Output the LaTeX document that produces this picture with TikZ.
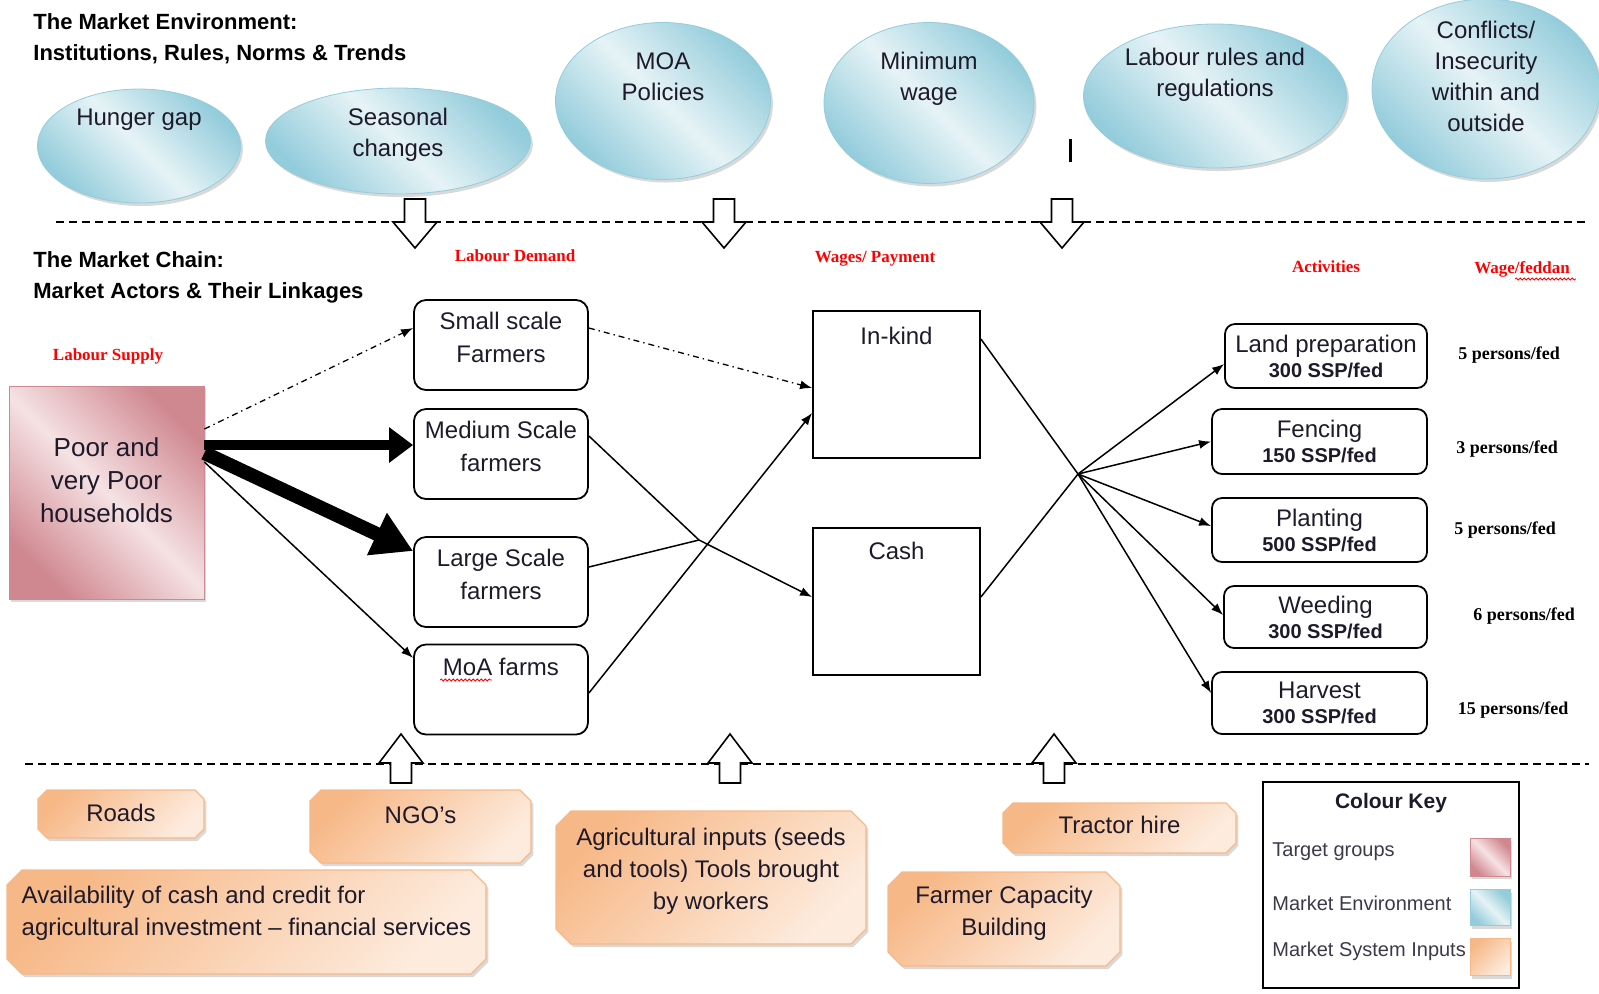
\documentclass[tikz,border=0pt]{standalone}
\usepackage{fontspec}
\setmainfont{Liberation Sans}
\newfontfamily\labelfont{Liberation Serif}
\usetikzlibrary{shapes.geometric,shadows,arrows.meta,decorations.pathmorphing}
\definecolor{envdark}{HTML}{93CCDB}
\definecolor{envlight}{HTML}{E6F3F6}
\definecolor{tgtdark}{HTML}{D08890}
\definecolor{tgtlight}{HTML}{F5E2E4}
\definecolor{inpdark}{HTML}{F7B887}
\definecolor{inplight}{HTML}{FDEBDD}
\definecolor{txt}{HTML}{1E1A2A}
\definecolor{keytxt}{HTML}{3A3A4A}

\begin{document}
\begin{tikzpicture}[x=0.5pt,y=-0.5pt,
  >={Latex[length=6pt,width=4.5pt]},
  conn/.style={line width=0.75pt},
  dashdot/.style={line width=0.65pt, dash pattern=on 3pt off 2pt on 0.7pt off 2pt},
  sep/.style={line width=0.8pt, dash pattern=on 4pt off 2.5pt},
  head/.style={anchor=west, inner xsep=0pt, align=left, font=\bfseries\fontsize{11}{15.5}\selectfont},
  redlab/.style={text=red, font=\labelfont\bfseries\fontsize{8.5}{10}\selectfont},
  wlab/.style={font=\labelfont\bfseries\fontsize{9}{10}\selectfont},
  envfill/.style={draw=envdark, top color=envdark, bottom color=envdark, middle color=envlight, shading angle=-45},
  tgtfill/.style={draw=tgtdark, top color=tgtdark, bottom color=tgtdark, middle color=tgtlight, shading angle=-45},
  inpfill/.style={draw=inpdark, top color=inpdark, bottom color=inplight, shading angle=45},
  shade/.style={drop shadow={opacity=.3, shadow xshift=1.2pt, shadow yshift=-1.5pt}},
  env/.style={ellipse, inner sep=0pt, envfill, shade},
  envtext/.style={align=center, text=txt, font=\fontsize{12}{15.5}\selectfont},
  dem/.style={draw, rounded corners=6pt, line width=0.9pt, minimum width=87pt, minimum height=45pt,
    align=center, text=txt, text depth=8pt, font=\fontsize{12}{16.5}\selectfont},
  toptext/.style={text=txt, font=\fontsize{12}{14}\selectfont, anchor=north, inner sep=0pt},
  pay/.style={draw, line width=0.9pt, minimum width=83.5pt, minimum height=73.5pt},
  act/.style={draw, rounded corners=5pt, line width=0.9pt, align=center, text=txt,
    font=\fontsize{12}{12.5}\selectfont},
  inptext/.style={align=center, text=txt, font=\fontsize{12}{16}\selectfont},
  keyitem/.style={anchor=west, inner xsep=0pt, text=keytxt, font=\fontsize{10}{12}\selectfont}]
\useasboundingbox (0,0) rectangle (1599,993);

% MARKET ENVIRONMENT
\node[head] (envhead) at (33,38.5) {The Market Environment:\\Institutions, Rules, Norms \& Trends};
\node[env, minimum width=101.5pt, minimum height=57pt, label={[envtext,yshift=13pt]center:Hunger gap}] (hunger) at (139,146) {};
\node[env, minimum width=132.5pt, minimum height=53pt, label={[envtext,yshift=3pt]center:Seasonal\\changes}] (season) at (398,141) {};
\node[env, minimum width=107.5pt, minimum height=78.5pt, label={[envtext,yshift=12pt]center:MOA\\Policies}] (moapol) at (663,101) {};
\node[env, minimum width=105pt, minimum height=80.5pt, label={[envtext,yshift=12pt]center:Minimum\\wage}] (minwage) at (929,103) {};
\node[env, minimum width=131.5pt, minimum height=72pt, label={[envtext,yshift=10.5pt]center:Labour rules and\\regulations}] (rules) at (1215,96) {};
\node[env, minimum width=114pt, minimum height=90pt, label={[envtext,yshift=6.5pt]center:Conflicts/\\Insecurity\\within and\\outside}] (conflict) at (1486,89) {};
\draw[line width=1.5pt] (1070,139) -- (1070,162);

\draw[sep] (56,222) -- (1589,222);
\foreach \x in {415,724,1062}
  \draw[line width=0.8pt, fill=white] (\x-10.5,199) -- (\x+10.5,199) -- (\x+10.5,222) -- (\x+22,222)
    -- (\x,248) -- (\x-22,222) -- (\x-10.5,222) -- cycle;

% MARKET CHAIN
\node[head] (chainhead) at (33,277.5) {The Market Chain:\\Market Actors \& Their Linkages};
\node[redlab] (supply) at (108,356) {Labour Supply};
\node[redlab] (demand) at (515,256) {Labour Demand};
\node[redlab] (wages) at (875,259) {Wages/ Payment};
\node[redlab] (activ) at (1326,267) {Activities};
\node[redlab] (wagefed) at (1522,269) {Wage/feddan};
\draw[red, line width=0.4pt, decorate, decoration={snake, amplitude=0.5pt, segment length=2pt}] (1515,279) -- (1576,279);

\node[tgtfill, shade, minimum width=97.5pt, minimum height=106.5pt, align=center, text=txt, text depth=12pt,
  font=\fontsize{13}{16.5}\selectfont] (poor) at (106.5,492.5) {Poor and\\very Poor\\households};

\node[dem] (small) at (501,345) {Small scale\\Farmers};
\node[dem] (medium) at (501,454) {Medium Scale\\farmers};
\node[dem] (large) at (501,582) {Large Scale\\farmers};
\node[dem, label={[toptext, yshift=-7.25pt]north:MoA farms}] (moa) at (501,689.5) {};
\draw[red, line width=0.4pt, decorate, decoration={snake, amplitude=0.5pt, segment length=2pt}] (440,680) -- (492,680);

\node[pay, label={[toptext, yshift=-8.25pt]north:In-kind}] (inkind) at (896.5,384.5) {};
\node[pay, label={[toptext, yshift=-7.25pt]north:Cash}] (cash) at (896.5,601.5) {};

\node[act, minimum width=101pt, minimum height=32pt] (land) at (1326,356) {Land preparation\\{\bfseries\fontsize{10}{12.5}\selectfont 300 SSP/fed}};
\node[act, minimum width=107.5pt, minimum height=32.5pt] (fencing) at (1319.5,441.5) {Fencing\\{\bfseries\fontsize{10}{12.5}\selectfont 150 SSP/fed}};
\node[act, minimum width=107.5pt, minimum height=32pt] (planting) at (1319.5,530) {Planting\\{\bfseries\fontsize{10}{12.5}\selectfont 500 SSP/fed}};
\node[act, minimum width=101.5pt, minimum height=31pt] (weeding) at (1325.5,617) {Weeding\\{\bfseries\fontsize{10}{12.5}\selectfont 300 SSP/fed}};
\node[act, minimum width=107.5pt, minimum height=31pt] (harvest) at (1319.5,703) {Harvest\\{\bfseries\fontsize{10}{12.5}\selectfont 300 SSP/fed}};

\node[wlab] (wland) at (1509,355) {5 persons/fed};
\node[wlab] (wfence) at (1507,449) {3 persons/fed};
\node[wlab] (wplant) at (1505,530) {5 persons/fed};
\node[wlab] (wweed) at (1524,616) {6 persons/fed};
\node[wlab] (wharv) at (1513,710) {15 persons/fed};

% supply to demand
\draw[dashdot, ->] ([yshift=31.75pt]poor.east) -- ([yshift=8.5pt]small.west);
\draw[line width=5pt, -{Triangle[length=12pt,width=17pt]}] ([yshift=23.75pt]poor.east) -- ([yshift=4.5pt]medium.west);
\draw[line width=7pt, -{Triangle[length=20pt,width=22pt]}] ([yshift=19.75pt]poor.east) -- ([yshift=15.5pt]large.west);
\draw[conn, ->] ([yshift=15.25pt]poor.east) -- ([yshift=15.75pt]moa.west);

% demand to payment
\coordinate (mid) at (699,540);
\draw[dashdot, ->] ([yshift=8.5pt]small.east) -- ([yshift=-1.75pt]inkind.west);
\draw[conn, ->] ([yshift=9pt]medium.east) -- (mid) -- ([yshift=2.25pt]cash.west);
\draw[conn] ([yshift=7.5pt]large.east) -- (mid);
\draw[conn, ->] ([yshift=-1.75pt]moa.east) -- ([yshift=-14.25pt]inkind.west);

% payment to activities
\coordinate (split) at (1078,474);
\draw[conn] ([yshift=22.75pt]inkind.east) -- (split);
\draw[conn] ([yshift=2.25pt]cash.east) -- (split);
\foreach \t/\s in {land/-4pt, fencing/0pt, planting/2pt, weeding/1pt, harvest/5pt}
  \draw[conn, ->] (split) -- ([yshift=\s]\t.west);

% MARKET SYSTEM INPUTS
\draw[sep] (25,764) -- (1589,764);
\foreach \x in {401,730,1054}
  \draw[line width=0.8pt, fill=white] (\x-10.5,783) -- (\x+10.5,783) -- (\x+10.5,763) -- (\x+22,763)
    -- (\x,734) -- (\x-22,763) -- (\x-10.5,763) -- cycle;

% chamfered boxes: left/top/right/bottom/chamfer
\foreach \a/\b/\c/\d/\k in {38/790/204/838/9, 310/790/531/863/11, 7/870/486/974/15,
    556/811/866/944/15, 1003/803/1236/853/10, 888/872/1120/966/14}
  \draw[inpfill, shade, line width=0.6pt] (\a+\k,\b) -- (\c-\k,\b) -- (\c,\b+\k) -- (\c,\d-\k)
    -- (\c-\k,\d) -- (\a+\k,\d) -- (\a,\d-\k) -- (\a,\b+\k) -- cycle;
\node[inptext] (roads) at (121,813) {Roads};
\node[inptext] (ngo) at (420.5,815) {NGO's};
\node[inptext, align=left] (credit) at (246.5,913.5) {Availability of cash and credit for\\agricultural investment -- financial services};
\node[inptext] (agri) at (711,871) {Agricultural inputs (seeds\\and tools) Tools brought\\by workers};
\node[inptext] (tractor) at (1119.5,825) {Tractor hire};
\node[inptext] (capacity) at (1004,913.5) {Farmer Capacity\\Building};

% COLOUR KEY
\node[draw, line width=0.9pt, minimum width=128pt, minimum height=103pt] (key) at (1391,885) {};
\node[font=\bfseries\fontsize{10.5}{12}\selectfont, text=txt] (keyhead) at (1391,803) {Colour Key};
\node[keyitem] (ktgt) at (1272,852) {Target groups};
\node[keyitem] (kenv) at (1272,903) {Market Environment};
\node[keyitem] (kinp) at (1272,951) {Market System Inputs};
\node[tgtfill, shade, minimum width=20pt, minimum height=19pt] (sw1) at (1490,857) {};
\node[envfill, shade, minimum width=20pt, minimum height=18pt] (sw2) at (1490,907.5) {};
\node[inpfill, shade, minimum width=20pt, minimum height=18.5pt] (sw3) at (1490,957) {};
\end{tikzpicture}
\end{document}
